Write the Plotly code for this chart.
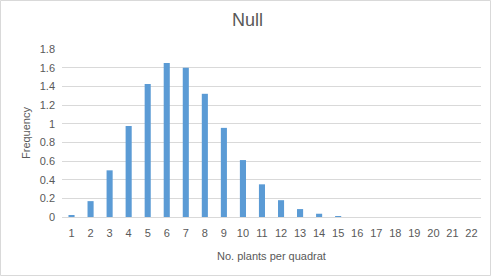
import plotly.graph_objects as go

categories = [str(i) for i in range(1, 23)]
frequency = [0.02, 0.17, 0.50, 0.975, 1.425, 1.65, 1.60, 1.32, 0.955, 0.61, 0.35,
             0.18, 0.085, 0.035, 0.01, 0, 0, 0, 0, 0, 0, 0]
y_ticks = [0, 0.2, 0.4, 0.6, 0.8, 1.0, 1.2, 1.4, 1.6, 1.8]
y_tick_labels = ["0", "0.2", "0.4", "0.6", "0.8", "1", "1.2", "1.4", "1.6", "1.8"]

W, H = 495, 277
L, R, T, B = 62, 14, 49, 60
pw, ph = W - L - R, H - T - B

fig = go.Figure(go.Bar(x=categories, y=frequency, marker_color="#5b9bd5",
                       marker_line_width=0))

font = "Liberation Sans"
fig.update_layout(
    width=W, height=H,
    margin=dict(l=L, r=R, t=T, b=B),
    paper_bgcolor="white", plot_bgcolor="white",
    bargap=0.68,
    showlegend=False,
    title=dict(text="Null", x=0.5, xanchor="center", y=1 - 20 / H, yanchor="middle",
               font=dict(family=font, size=18, color="#595959")),
    xaxis=dict(type="category", showgrid=False, showline=True, linecolor="#d9d9d9",
               linewidth=1, ticks="", ticklabelstandoff=6,
               tickfont=dict(family=font, size=11, color="#595959"),
               title=dict(text="No. plants per quadrat", standoff=14,
                          font=dict(family=font, size=11, color="#595959"))),
    yaxis=dict(range=[0, 1.8], tickvals=y_ticks, ticktext=y_tick_labels,
               showgrid=True, gridcolor="#d9d9d9", gridwidth=1, zeroline=False,
               showline=False, ticks="", ticklabelstandoff=6,
               tickfont=dict(family=font, size=11, color="#595959"),
               title=dict(text="Frequency", standoff=6,
                          font=dict(family=font, size=11, color="#595959"))),
)

# light chart border
x0 = (0.5 - L) / pw
x1 = (490.5 - L) / pw
y0 = (H - B - 275.5) / ph
y1 = (H - B - 0.5) / ph
fig.add_shape(type="rect", xref="paper", yref="paper", x0=x0, x1=x1, y0=y0, y1=y1,
              line=dict(color="#d9d9d9", width=1), fillcolor="rgba(0,0,0,0)", layer="below")

fig.write_html("out.html")
